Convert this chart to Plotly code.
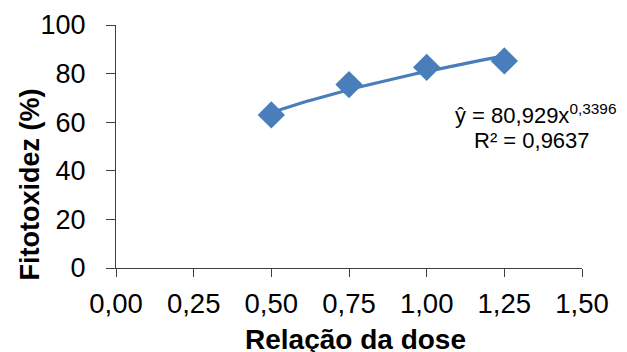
import numpy as np
import plotly.graph_objects as go

dose = [0.50, 0.75, 1.00, 1.25]
fitotox = [63.0, 75.5, 82.6, 85.2]
coef_a = 80.929
coef_b = 0.3396
x_ticks = [0, 0.25, 0.5, 0.75, 1.0, 1.25, 1.5]
x_tick_labels = ["0,00", "0,25", "0,50", "0,75", "1,00", "1,25", "1,50"]
y_ticks = [0, 20, 40, 60, 80, 100]

xf = np.linspace(min(dose), max(dose), 60)
yf = coef_a * xf ** coef_b

L, R, T, B = 116, 45, 25, 84
W, H = 627, 352
PW, PH = W - L - R, H - T - B

color = "#4A7EBB"
fig = go.Figure()
fig.add_trace(go.Scatter(x=xf, y=yf, mode="lines",
                         line=dict(color=color, width=3.2), hoverinfo="skip"))
fig.add_trace(go.Scatter(x=dose, y=fitotox, mode="markers",
                         marker=dict(symbol="diamond", size=21, color=color,
                                     line=dict(width=0))))

font = "Liberation Sans, Arial, sans-serif"
fig.update_layout(
    width=W, height=H,
    margin=dict(l=L, r=R, t=T, b=B, autoexpand=False),
    paper_bgcolor="white", plot_bgcolor="white",
    showlegend=False,
    font=dict(family=font, color="#000000"),
)
fig.update_xaxes(range=[0, 1.5], tickvals=x_ticks, ticktext=x_tick_labels,
                 showgrid=False, zeroline=False, showline=True, automargin=False,
                 linecolor="#404040", linewidth=1.3,
                 ticks="outside", ticklen=8, tickcolor="#404040",
                 tickfont=dict(size=27.5), ticklabelstandoff=3)
fig.update_yaxes(range=[0, 100], tickvals=y_ticks,
                 showgrid=False, zeroline=False, showline=True, automargin=False,
                 linecolor="#404040", linewidth=1.3,
                 ticks="outside", ticklen=9, tickcolor="#404040",
                 tickfont=dict(size=27), ticklabelstandoff=15)


def px_x(px):
    return (px - L) / PW


def px_y(py_from_top):
    return (H - B - py_from_top) / PH


# axis titles
fig.add_annotation(x=px_x(355), y=px_y(339), xref="paper", yref="paper",
                   xanchor="center", yanchor="middle",
                   text="<b>Relação da dose</b>", showarrow=False,
                   font=dict(size=28))
fig.add_annotation(x=px_x(29.5), y=px_y(185), xref="paper", yref="paper",
                   xanchor="center", yanchor="middle",
                   text="<b>Fitotoxidez (%)</b>", showarrow=False,
                   textangle=-90, font=dict(size=27))
# equation
fig.add_annotation(x=1.349, y=63.5, xref="x", yref="y", xanchor="center",
                   yanchor="middle",
                   text="ŷ = 80,929x<sup>0,3396</sup>", showarrow=False,
                   font=dict(size=22))
fig.add_annotation(x=1.339, y=52.3, xref="x", yref="y", xanchor="center",
                   yanchor="middle",
                   text="R² = 0,9637", showarrow=False, font=dict(size=22))

fig.write_html("out.html", config={"displayModeBar": False})

# remove default body margin so the figure sits at the window's top-left corner
with open("out.html", "r", encoding="utf-8") as f:
    html = f.read()
html = html.replace("<head>", "<head><style>html,body{margin:0;padding:0;overflow:hidden;}</style>", 1)
with open("out.html", "w", encoding="utf-8") as f:
    f.write(html)
